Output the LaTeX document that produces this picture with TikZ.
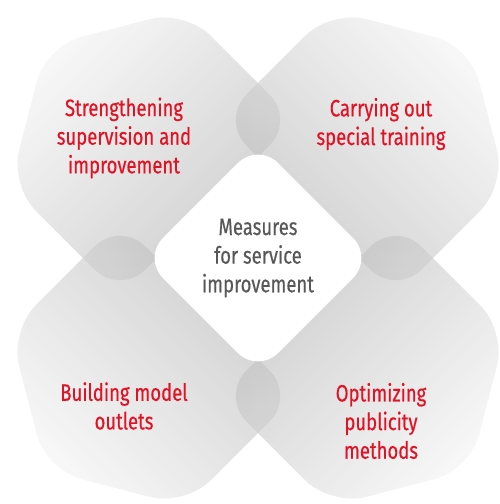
\documentclass[tikz,border=0pt]{standalone}
\usepackage{fontspec}
\setmainfont{Fira Sans}[FakeStretch=0.78,FakeBold=0.4]
\definecolor{itemred}{RGB}{226,18,36}
\definecolor{titlegrey}{RGB}{89,88,88}

\begin{document}
\begin{tikzpicture}[x=0.02cm,y=0.02cm,
  petal/.style={fill opacity=0.7,top color=black!4,bottom color=black!28,rounded corners=0.72cm},
  item/.style={text=itemred,align=center,font=\fontsize{13.5}{16.3}\selectfont},
  title/.style={text=titlegrey,align=center,font=\fontsize{13.5}{16.3}\selectfont}]
\useasboundingbox (-258,-246) rectangle (242,258);
\path[petal,shading angle=45]
(-73,248)--(37,138)--(-138,-37)--(-248,73)--(-212,212)--cycle;
\path[petal,shading angle=-45]
(73,248)--(212,212)--(248,73)--(138,-37)--(-37,138)--cycle;
\path[petal,shading angle=135]
(-73,-248)--(37,-138)--(-138,37)--(-248,-73)--(-212,-212)--cycle;
\path[petal,shading angle=-135]
(73,-248)--(212,-212)--(248,-73)--(138,37)--(-37,-138)--cycle;
\fill[white,rounded corners=0.56cm] (0,115)--(115,0)--(0,-115)--(-115,0)--cycle;
\node[title] (measures) at (0,0) {Measures\\for service\\improvement};
\node[item] (supervise) at (-134,120) {Strengthening\\supervision and\\improvement};
\node[item] (training) at (123,134) {Carrying out\\special training};
\node[item] (outlets) at (-134,-148) {Building model\\outlets};
\node[item] (publicity) at (123,-163) {Optimizing\\publicity\\methods};
\end{tikzpicture}
\end{document}
